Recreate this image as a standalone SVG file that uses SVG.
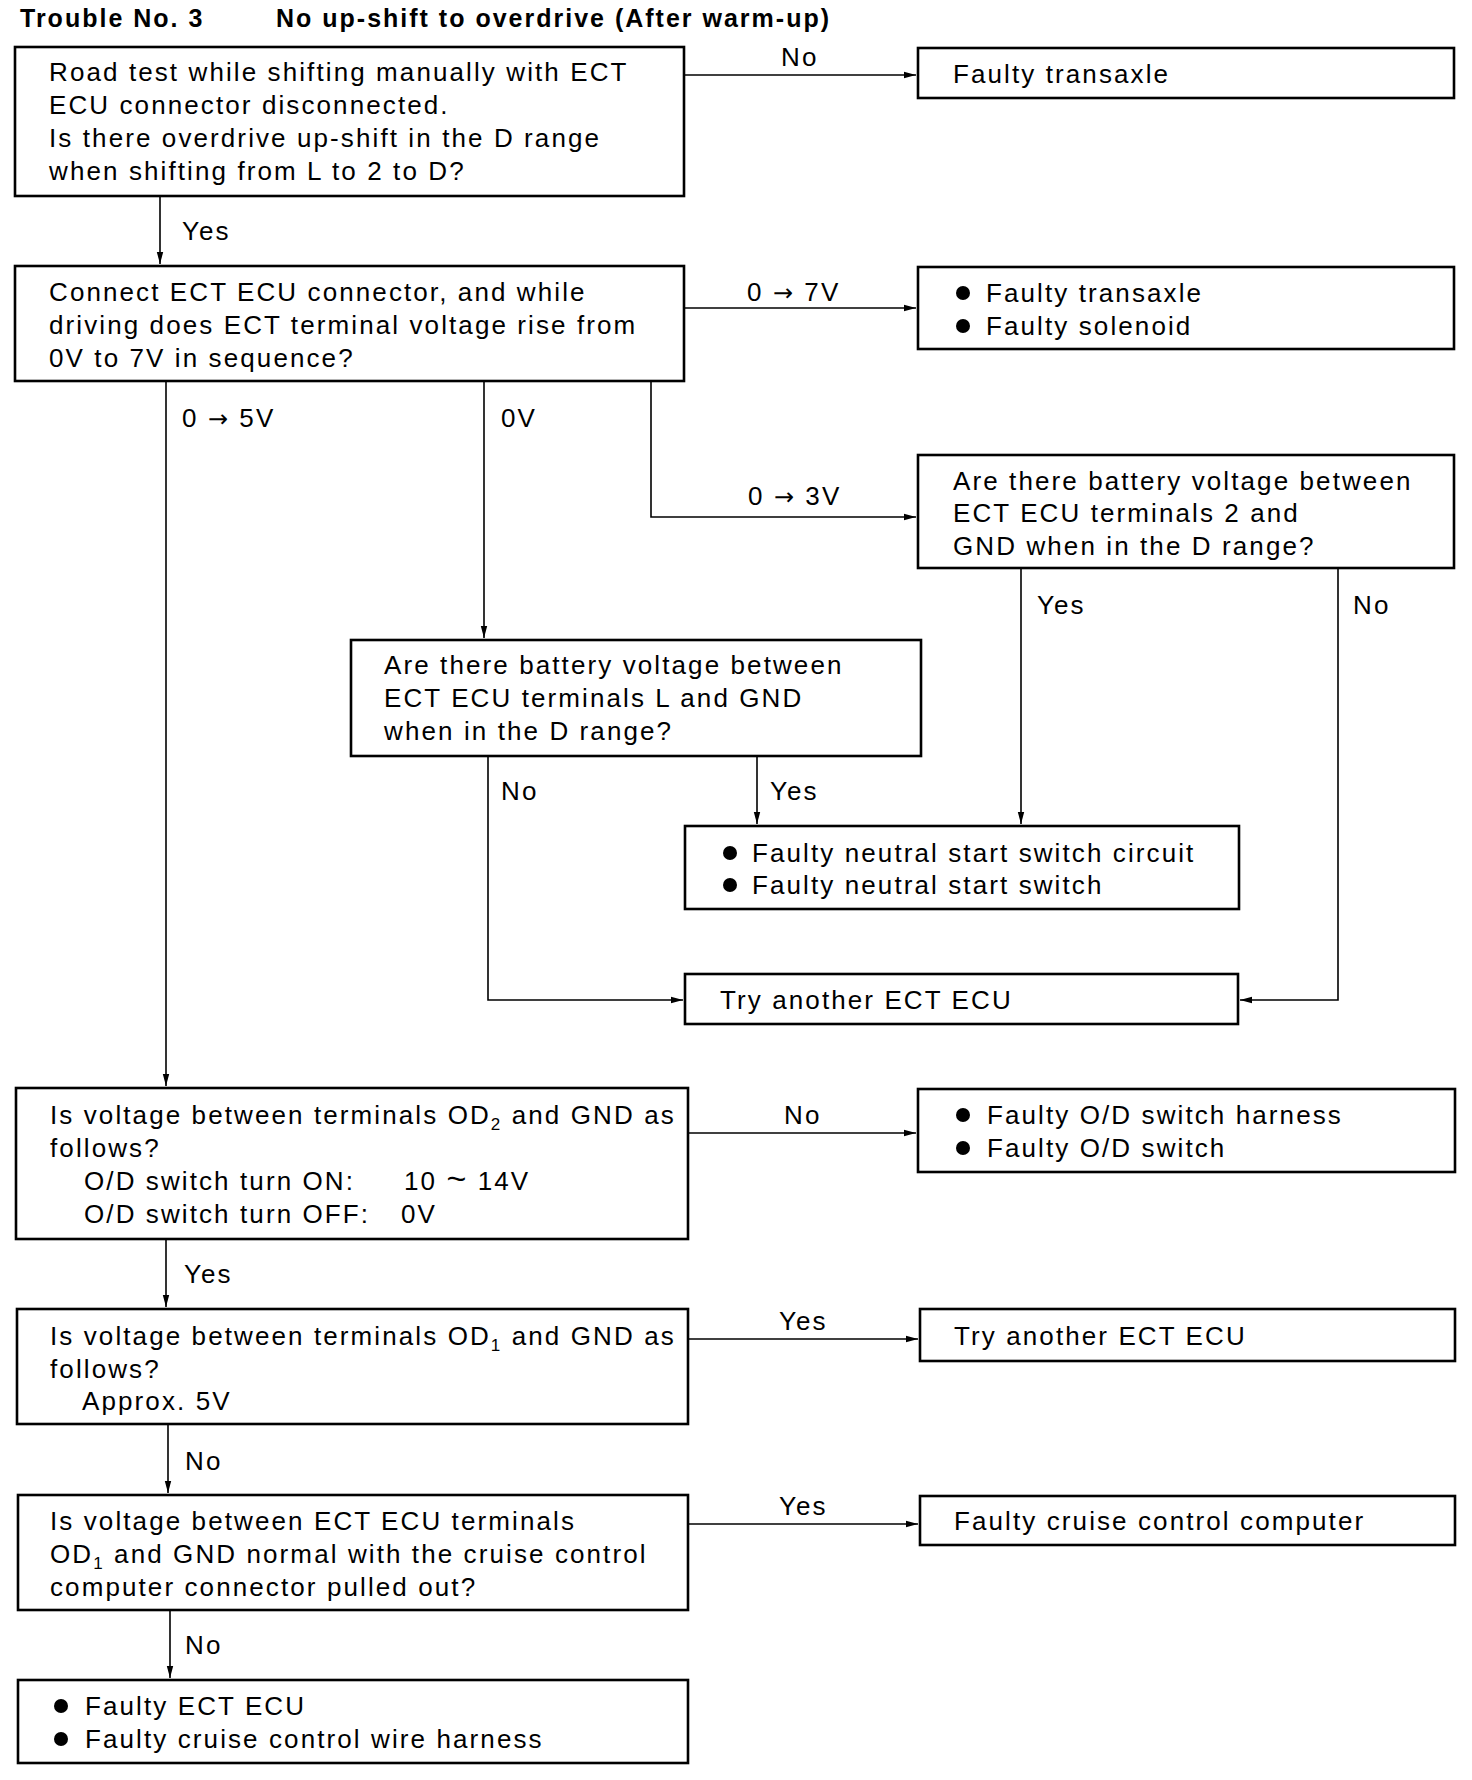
<svg xmlns="http://www.w3.org/2000/svg" width="1472" height="1780" viewBox="0 0 1472 1780">
<style>
  .box { fill: #fff; stroke: #000; stroke-width: 2.6; }
  .t { font-family: "Liberation Sans", Arial, sans-serif; font-size: 26px; letter-spacing: 2.1px; fill: #000; }
  .title { font-family: "Liberation Sans", Arial, sans-serif; font-size: 25px; font-weight: bold; letter-spacing: 2px; fill: #000; }
  .c { fill: none; stroke: #000; stroke-width: 1.6; }
  .sub { font-size: 17px; }
  .ar { font-family: "DejaVu Sans", sans-serif; font-size: 24px; letter-spacing: 2px; }
  .tl { font-size: 34px; letter-spacing: 2px; }
</style>
<defs>
  <marker id="ah" markerWidth="12" markerHeight="8" refX="12" refY="4" orient="auto" markerUnits="userSpaceOnUse">
    <path d="M0,0.8 L12,4 L0,7.2 Z" fill="#000"/>
  </marker>
</defs>
<rect width="1472" height="1780" fill="#fff"/>

<g id="title">
  <text class="title" x="20" y="27" letter-spacing="2.6">Trouble No. 3</text>
  <text class="title" x="276" y="27">No up-shift to overdrive (After warm-up)</text>
</g>

<g id="connectors">
  <path class="c" d="M684,75 H916" marker-end="url(#ah)"/>
  <path class="c" d="M160,196 V264" marker-end="url(#ah)"/>
  <path class="c" d="M684,308 H916" marker-end="url(#ah)"/>
  <path class="c" d="M166,381 V1086" marker-end="url(#ah)"/>
  <path class="c" d="M484,381 V638" marker-end="url(#ah)"/>
  <path class="c" d="M651,381 V517 H916" marker-end="url(#ah)"/>
  <path class="c" d="M1021,568 V824" marker-end="url(#ah)"/>
  <path class="c" d="M1338,568 V1000 H1240" marker-end="url(#ah)"/>
  <path class="c" d="M488,756 V1000 H683" marker-end="url(#ah)"/>
  <path class="c" d="M757,756 V824" marker-end="url(#ah)"/>
  <path class="c" d="M688,1133 H916" marker-end="url(#ah)"/>
  <path class="c" d="M166,1239 V1307" marker-end="url(#ah)"/>
  <path class="c" d="M688,1339 H918" marker-end="url(#ah)"/>
  <path class="c" d="M168,1424 V1493" marker-end="url(#ah)"/>
  <path class="c" d="M688,1524 H918" marker-end="url(#ah)"/>
  <path class="c" d="M170,1610 V1678" marker-end="url(#ah)"/>
  <g id="labels">
    <text class="t" x="781" y="66">No</text>
    <text class="t" x="182" y="240">Yes</text>
    <text class="t" x="747" y="301">0 <tspan class="ar">→</tspan> 7V</text>
    <text class="t" x="182" y="427">0 <tspan class="ar">→</tspan> 5V</text>
    <text class="t" x="501" y="427">0V</text>
    <text class="t" x="748" y="505">0 <tspan class="ar">→</tspan> 3V</text>
    <text class="t" x="1037" y="614">Yes</text>
    <text class="t" x="1353" y="614">No</text>
    <text class="t" x="501" y="800">No</text>
    <text class="t" x="770" y="800">Yes</text>
    <text class="t" x="784" y="1124">No</text>
    <text class="t" x="184" y="1283">Yes</text>
    <text class="t" x="779" y="1330">Yes</text>
    <text class="t" x="185" y="1470">No</text>
    <text class="t" x="779" y="1515">Yes</text>
    <text class="t" x="185" y="1654">No</text>
  </g>
</g>

<g id="n1">
  <rect class="box" x="15" y="47" width="669" height="149"/>
  <text class="t" x="49" y="81">Road test while shifting manually with ECT</text>
  <text class="t" x="49" y="114">ECU connector disconnected.</text>
  <text class="t" x="49" y="147">Is there overdrive up-shift in the D range</text>
  <text class="t" x="49" y="180">when shifting from L to 2 to D?</text>
</g>

<g id="n2">
  <rect class="box" x="918" y="48" width="536" height="50"/>
  <text class="t" x="953" y="83">Faulty transaxle</text>
</g>

<g id="n3">
  <rect class="box" x="15" y="266" width="669" height="115"/>
  <text class="t" x="49" y="301">Connect ECT ECU connector, and while</text>
  <text class="t" x="49" y="334">driving does ECT terminal voltage rise from</text>
  <text class="t" x="49" y="367">0V to 7V in sequence?</text>
</g>

<g id="n4">
  <rect class="box" x="918" y="267" width="536" height="82"/>
  <circle cx="963" cy="293" r="7"/>
  <circle cx="963" cy="326" r="7"/>
  <text class="t" x="986" y="302">Faulty transaxle</text>
  <text class="t" x="986" y="335">Faulty solenoid</text>
</g>

<g id="n5">
  <rect class="box" x="918" y="455" width="536" height="113"/>
  <text class="t" x="953" y="490">Are there battery voltage between</text>
  <text class="t" x="953" y="522">ECT ECU terminals 2 and</text>
  <text class="t" x="953" y="555">GND when in the D range?</text>
</g>

<g id="n6">
  <rect class="box" x="351" y="640" width="570" height="116"/>
  <text class="t" x="384" y="674">Are there battery voltage between</text>
  <text class="t" x="384" y="707">ECT ECU terminals L and GND</text>
  <text class="t" x="384" y="740">when in the D range?</text>
</g>

<g id="n7">
  <rect class="box" x="685" y="826" width="554" height="83"/>
  <circle cx="730" cy="853" r="7"/>
  <circle cx="730" cy="885" r="7"/>
  <text class="t" x="752" y="862">Faulty neutral start switch circuit</text>
  <text class="t" x="752" y="894">Faulty neutral start switch</text>
</g>

<g id="n8">
  <rect class="box" x="685" y="974" width="553" height="50"/>
  <text class="t" x="720" y="1009">Try another ECT ECU</text>
</g>

<g id="n9">
  <rect class="box" x="16" y="1088" width="672" height="151"/>
  <text class="t" x="50" y="1124">Is voltage between terminals OD<tspan class="sub" dy="6">2</tspan><tspan dy="-6"> and GND as</tspan></text>
  <text class="t" x="50" y="1157">follows?</text>
  <text class="t" x="84" y="1190">O/D switch turn ON:</text>
  <text class="t" x="404" y="1190">10 <tspan class="tl">~</tspan> 14V</text>
  <text class="t" x="84" y="1223">O/D switch turn OFF:</text>
  <text class="t" x="401" y="1223">0V</text>
</g>

<g id="n10">
  <rect class="box" x="918" y="1089" width="537" height="83"/>
  <circle cx="963" cy="1115" r="7"/>
  <circle cx="963" cy="1148" r="7"/>
  <text class="t" x="987" y="1124">Faulty O/D switch harness</text>
  <text class="t" x="987" y="1157">Faulty O/D switch</text>
</g>

<g id="n11">
  <rect class="box" x="17" y="1309" width="671" height="115"/>
  <text class="t" x="50" y="1345">Is voltage between terminals OD<tspan class="sub" dy="6">1</tspan><tspan dy="-6"> and GND as</tspan></text>
  <text class="t" x="50" y="1378">follows?</text>
  <text class="t" x="82" y="1410">Approx. 5V</text>
</g>

<g id="n12">
  <rect class="box" x="920" y="1309" width="535" height="52"/>
  <text class="t" x="954" y="1345">Try another ECT ECU</text>
</g>

<g id="n13">
  <rect class="box" x="18" y="1495" width="670" height="115"/>
  <text class="t" x="50" y="1530">Is voltage between ECT ECU terminals</text>
  <text class="t" x="50" y="1563">OD<tspan class="sub" dy="6">1</tspan><tspan dy="-6"> and GND normal with the cruise control</tspan></text>
  <text class="t" x="50" y="1596">computer connector pulled out?</text>
</g>

<g id="n14">
  <rect class="box" x="920" y="1496" width="535" height="49"/>
  <text class="t" x="954" y="1530">Faulty cruise control computer</text>
</g>

<g id="n15">
  <rect class="box" x="18" y="1680" width="670" height="83"/>
  <circle cx="61" cy="1706" r="7"/>
  <circle cx="61" cy="1739" r="7"/>
  <text class="t" x="85" y="1715">Faulty ECT ECU</text>
  <text class="t" x="85" y="1748">Faulty cruise control wire harness</text>
</g>
</svg>
